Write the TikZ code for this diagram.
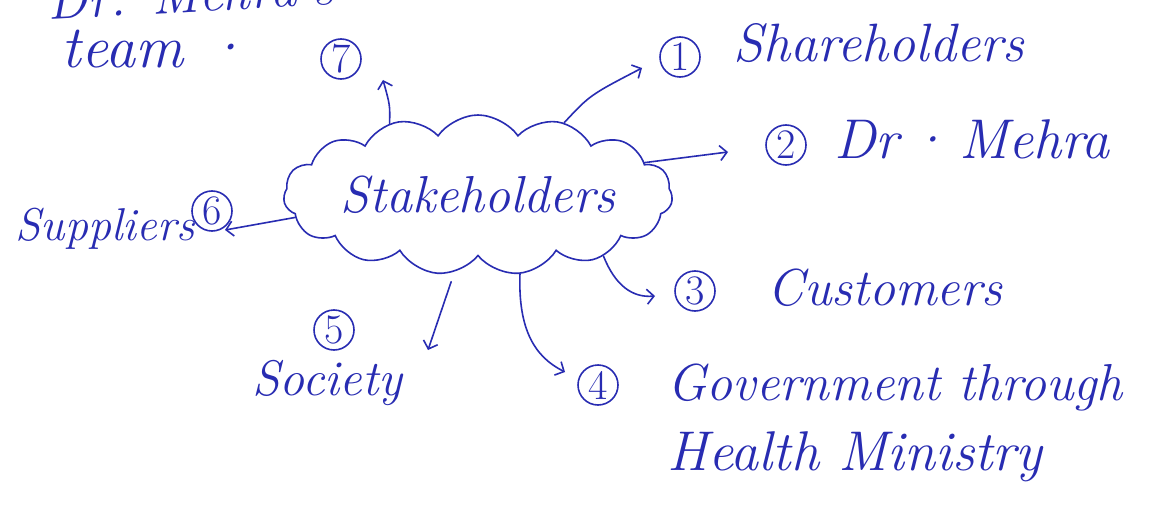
\documentclass[tikz,border=0pt]{standalone}
\usepackage{fontspec}
\usetikzlibrary{arrows.meta,shapes.symbols}
\definecolor{pen}{RGB}{40,44,178}
\newcommand\hwsize[1]{\fontsize{#1}{#1}\selectfont\itshape}
\newcommand\numsize{\fontsize{42}{42}\selectfont}
\begin{document}
\begin{tikzpicture}[x=1pt,y=-1pt,
  ink/.style={draw=pen, line width=1.6pt, line cap=round, line join=round},
  conn/.style={ink, -{Straight Barb[length=7pt,width=15pt]}},
  hw/.style={text=pen, inner sep=0pt, anchor=base},
  num/.style={circle, draw=pen, line width=1.6pt, text=pen, minimum size=40pt, inner sep=0pt, font=\numsize},
  cloudbox/.style={cloud, draw=pen, line width=1.6pt, cloud puffs=15, cloud puff arc=110, cloud ignores aspect, minimum width=389pt, minimum height=160pt, inner sep=0pt, text=pen}
]
\useasboundingbox (0,0) rectangle (1158,508);
\clip (0,0) rectangle (1158,508);
\fill[white] (0,0) rectangle (1158,508);

% centre cloud
\node[cloudbox, font=\hwsize{52}] (cl) at (478,195) {Stakeholders};

% numbered circles
\node[num] (n1) at (680,57) {1};
\node[num] (n2) at (786,145) {2};
\node[num] (n3) at (695,291) {3};
\node[num] (n4) at (598,385) {4};
\node[num] (n5) at (334,330) {5};
\node[num] (n6) at (212,211) {6};
\node[num] (n7) at (341,59) {7};

% labels
\node[hw, font=\hwsize{54}] (l1) at (879,62) {Shareholders};
\node[hw, font=\hwsize{56}] (l2) at (972,158) {Dr\,·\,Mehra};
\node[hw, font=\hwsize{52}] (l3) at (885,305) {Customers};
\node[hw, font=\hwsize{52}] (l4a) at (895,400) {Government through};
\node[hw, font=\hwsize{56}] (l4b) at (855,470) {Health Ministry};
\node[hw, font=\hwsize{50}] (l5) at (327,395) {Society};
\node[hw, font=\hwsize{46}] (l6) at (105,240) {Suppliers};
\node[hw, font=\hwsize{60}] (l7) at (155,68) {team\,\,·};
\node[hw, font=\hwsize{54}, rotate=3] (l7a) at (192,12) {Dr. Mehra's};

% connector ends
\coordinate (t7) at (383,80);
\coordinate (t1) at (642,68);
\coordinate (t2) at (728,152);
\coordinate (t3) at (655,296);
\coordinate (t4) at (565,372);
\coordinate (t5) at (428,350);
\coordinate (t6) at (225,230);

% connectors
\draw[conn] (cl.141) .. controls (390,105) .. (t7);
\draw[conn] (cl.40) .. controls (590,95) .. (t1);
\draw[conn] (cl.11) -- (t2);
\draw[conn] (cl.-26) .. controls (615,285) and (632,298) .. (t3);
\draw[conn] (cl.-62) .. controls (518,330) and (535,357) .. (t4);
\draw[conn, shorten <=10pt] (cl.-107) -- (t5);
\draw[conn] (cl.187) -- (t6);
\end{tikzpicture}
\end{document}
